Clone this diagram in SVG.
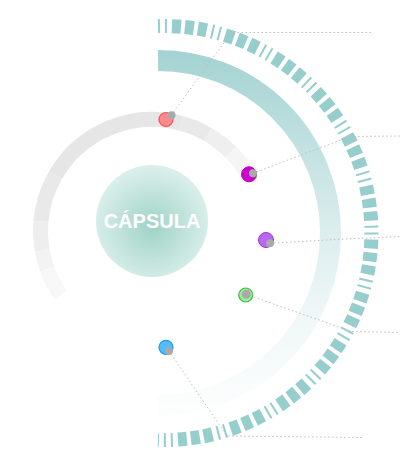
<svg xmlns="http://www.w3.org/2000/svg" width="400" height="470" viewBox="0 0 400 470">
<defs>
<radialGradient id="capG" cx="50%" cy="55%" r="55%">
<stop offset="0" stop-color="#a0d3c7"/>
<stop offset="1" stop-color="#dcf0ec"/>
</radialGradient>
<linearGradient id="bandG" gradientUnits="userSpaceOnUse" x1="0" y1="50" x2="0" y2="406">
<stop offset="0" stop-color="#9fd0d0" stop-opacity="0.95"/>
<stop offset="0.5" stop-color="#9fd0d0" stop-opacity="0.38"/>
<stop offset="0.75" stop-color="#9fd0d0" stop-opacity="0.16"/>
<stop offset="1" stop-color="#9fd0d0" stop-opacity="0.03"/>
</linearGradient>
</defs>
<style>
.ring{fill:none;stroke-width:15}
.lead{fill:none;stroke:#bdbdbd;stroke-width:1;stroke-dasharray:1.5 2.5}
.knob{fill:#aaaaaa}
.lbl{font-family:"Liberation Sans",Arial,sans-serif;font-weight:bold;font-size:20px;fill:#ffffff}
</style>
<g id="outer-band">
<path d="M 158 60.5 A 172.5 172.5 0 0 1 158 405.5" fill="none" stroke="url(#bandG)" stroke-width="21"/>
</g>
<g id="outer-ring">
<path d="M 158 26.1 A 207 207 0 1 1 158 439.9" fill="none" stroke="#96cdcd" stroke-width="14" stroke-dasharray="2 5 2 5 9 4 9 4 9 5"/>
</g>
<g id="gray-ring">
<path class="ring" stroke="#f5f5f5" d="M 248.56 175.25 A 111.5 111.5 0 0 0 230.84 152.16"/>
<path class="ring" stroke="#efefef" d="M 230.84 152.16 A 111.5 111.5 0 0 0 207.75 134.44"/>
<path class="ring" stroke="#e9e9e9" d="M 207.75 134.44 A 111.5 111.5 0 0 0 180.86 123.30"/>
<path class="ring" stroke="#e6e6e6" d="M 180.86 123.30 A 111.5 111.5 0 0 0 55.44 175.25"/>
<path class="ring" stroke="#e9e9e9" d="M 55.44 175.25 A 111.5 111.5 0 0 0 40.93 221.28"/>
<path class="ring" stroke="#eeeeee" d="M 40.93 221.28 A 111.5 111.5 0 0 0 42.19 250.36"/>
<path class="ring" stroke="#f3f3f3" d="M 42.19 250.36 A 111.5 111.5 0 0 0 47.22 269.14"/>
<path class="ring" stroke="#f8f8f8" d="M 47.22 269.14 A 111.5 111.5 0 0 0 60.66 294.95"/>
</g>
<g id="capsule">
<circle cx="152" cy="221" r="56" fill="url(#capG)"/>
<text class="lbl" x="152" y="228" text-anchor="middle">CÁPSULA</text>
</g>
<g id="connectors">
<polyline class="lead" points="171.5,115 231.5,32.5 373,32.5"/>
<polyline class="lead" points="253,173.3 350,136.5 400,136"/>
<polyline class="lead" points="270,243.3 345,239 400,236.5"/>
<polyline class="lead" points="246.5,294.5 352,331.5 400,332.5"/>
<polyline class="lead" points="169,351 227,436 364,437.5"/>
</g>
<g id="dot-red">
<circle cx="166" cy="119.5" r="7" fill="#ff8a8a" stroke="#f05555" stroke-width="1.2"/>
<circle class="knob" cx="171.5" cy="115.3" r="4"/>
</g>
<g id="dot-magenta">
<circle cx="249" cy="174.3" r="7.5" fill="#cc00cc" stroke="#bb00bb" stroke-width="1"/>
<circle class="knob" cx="253" cy="173.3" r="4"/>
</g>
<g id="dot-purple">
<circle cx="266" cy="240" r="7.5" fill="#bb66ee" stroke="#9933dd" stroke-width="1"/>
<circle class="knob" cx="270" cy="243.3" r="4"/>
</g>
<g id="dot-green">
<circle cx="245.7" cy="295" r="7" fill="#99ee99" stroke="#44bb44" stroke-width="1.2"/>
<circle class="knob" cx="246.3" cy="294.3" r="4.5"/>
</g>
<g id="dot-blue">
<circle cx="166" cy="347.3" r="7" fill="#55bbff" stroke="#2299ee" stroke-width="1.2"/>
<circle class="knob" cx="169" cy="351" r="4"/>
</g>
</svg>
